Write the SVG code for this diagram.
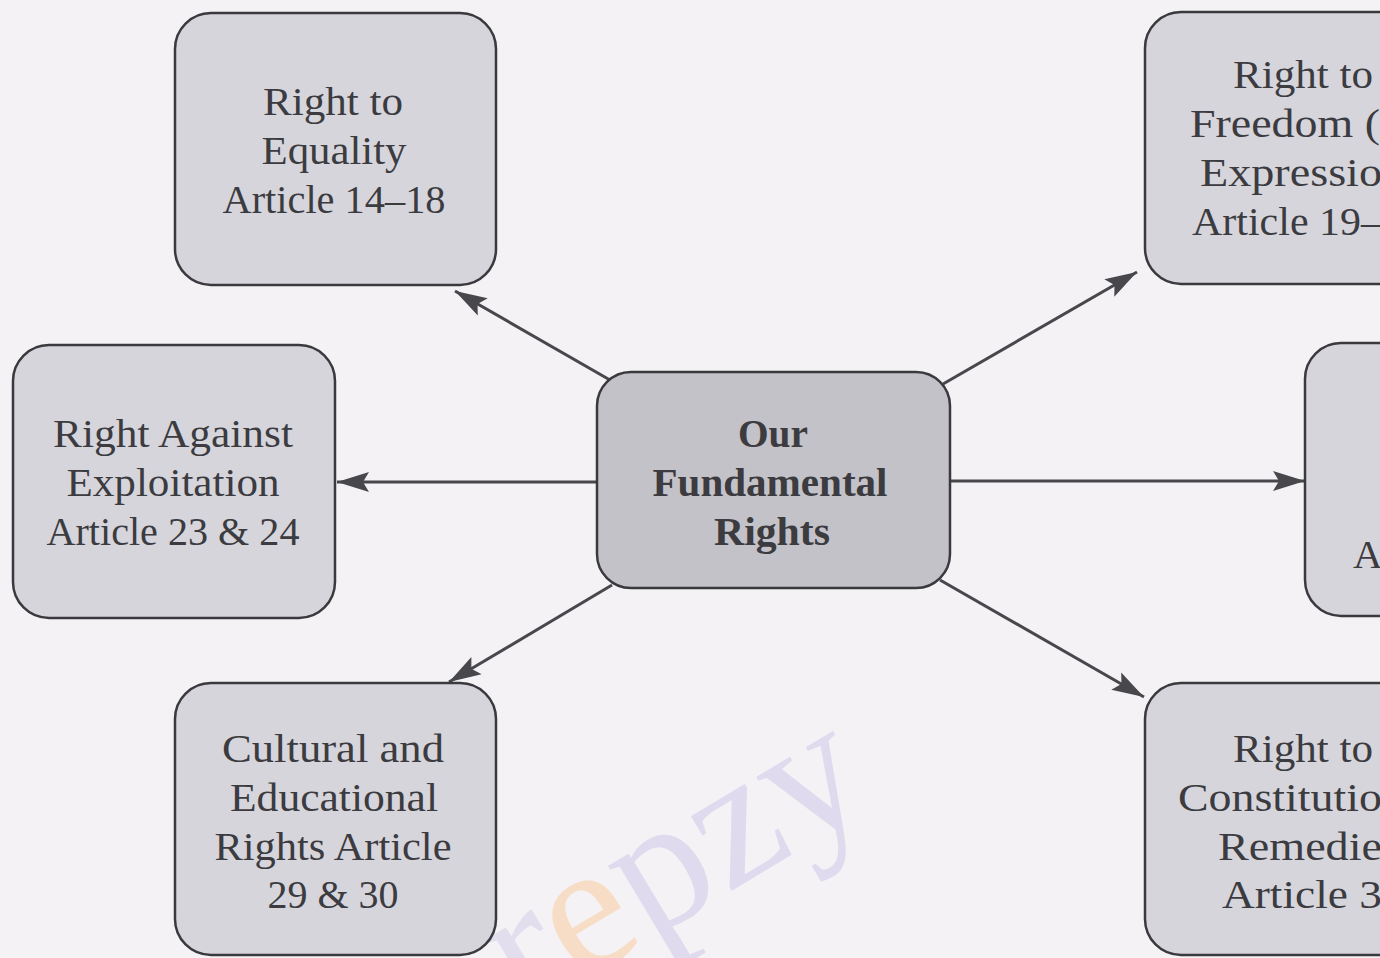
<svg xmlns="http://www.w3.org/2000/svg" width="1380" height="958" viewBox="0 0 1380 958">
<style>
.box{fill:#d6d5dc;stroke:#3a3a3e;stroke-width:2.5}
.center{fill:#c3c2c8;stroke:#3a3a3e;stroke-width:2.5}
.t{font-family:"Liberation Serif","DejaVu Serif",serif;font-size:41px;fill:#3b3b40;text-anchor:middle}
.ts{font-family:"Liberation Serif","DejaVu Serif",serif;font-size:41px;fill:#3b3b40;text-anchor:start}
.tb{font-family:"Liberation Serif","DejaVu Serif",serif;font-size:41px;font-weight:bold;fill:#3b3b40;text-anchor:middle}
.conn{stroke:#47474c;stroke-width:3;fill:none}
.wm{font-family:"Liberation Serif","DejaVu Serif",serif;font-size:185px}
</style>
<defs>
<marker id="ah" markerUnits="userSpaceOnUse" markerWidth="34" markerHeight="24" refX="32" refY="12" orient="auto">
<path d="M0,2 L32,12 L0,22 L6,12 Z" fill="#47474c"/>
</marker>
</defs>
<rect x="0" y="0" width="1380" height="958" fill="#f4f2f5"/>
<g id="watermark">
<text class="wm" x="0" y="0" transform="translate(525,1015) rotate(-31)"><tspan fill="#e3deee">r</tspan><tspan fill="#f7dcc6">e</tspan><tspan fill="#dfdaee">pzy</tspan></text>
</g>
<g id="connectors">
<line class="conn" x1="610" y1="380" x2="455" y2="291" marker-end="url(#ah)"/>
<line class="conn" x1="943" y1="384" x2="1137" y2="272" marker-end="url(#ah)"/>
<line class="conn" x1="598" y1="482" x2="337" y2="482" marker-end="url(#ah)"/>
<line class="conn" x1="950" y1="481" x2="1305" y2="481" marker-end="url(#ah)"/>
<line class="conn" x1="612" y1="585" x2="449" y2="682" marker-end="url(#ah)"/>
<line class="conn" x1="940" y1="580" x2="1144" y2="697" marker-end="url(#ah)"/>
</g>
<g id="node-equality">
<rect class="box" x="175" y="13" width="321" height="272" rx="36"/>
<text class="t" x="333" y="115" textLength="140" lengthAdjust="spacingAndGlyphs">Right to</text>
<text class="t" x="334" y="164" textLength="145" lengthAdjust="spacingAndGlyphs">Equality</text>
<text class="t" x="334" y="213" textLength="223" lengthAdjust="spacingAndGlyphs">Article 14–18</text>
</g>
<g id="node-exploitation">
<rect class="box" x="13" y="345" width="322" height="273" rx="36"/>
<text class="t" x="173" y="447" textLength="240" lengthAdjust="spacingAndGlyphs">Right Against</text>
<text class="t" x="173" y="496" textLength="213" lengthAdjust="spacingAndGlyphs">Exploitation</text>
<text class="t" x="173" y="545" textLength="253" lengthAdjust="spacingAndGlyphs">Article 23 &amp; 24</text>
</g>
<g id="node-cultural">
<rect class="box" x="175" y="683" width="321" height="272" rx="36"/>
<text class="t" x="333" y="762" textLength="222" lengthAdjust="spacingAndGlyphs">Cultural and</text>
<text class="t" x="334" y="811" textLength="208" lengthAdjust="spacingAndGlyphs">Educational</text>
<text class="t" x="333" y="860" textLength="237" lengthAdjust="spacingAndGlyphs">Rights Article</text>
<text class="t" x="333" y="908" textLength="131" lengthAdjust="spacingAndGlyphs">29 &amp; 30</text>
</g>
<g id="node-center">
<rect class="center" x="597" y="372" width="353" height="216" rx="34"/>
<text class="tb" x="773" y="447" textLength="70" lengthAdjust="spacingAndGlyphs">Our</text>
<text class="tb" x="770" y="496" textLength="235" lengthAdjust="spacingAndGlyphs">Fundamental</text>
<text class="tb" x="772" y="545" textLength="116" lengthAdjust="spacingAndGlyphs">Rights</text>
</g>
<g id="node-freedom">
<rect class="box" x="1145" y="12" width="280" height="272" rx="36"/>
<text class="ts" x="1233" y="88" textLength="140" lengthAdjust="spacingAndGlyphs">Right to</text>
<text class="ts" x="1190" y="137" textLength="190" lengthAdjust="spacingAndGlyphs">Freedom (</text>
<text class="ts" x="1200" y="186" textLength="182" lengthAdjust="spacingAndGlyphs">Expressio</text>
<text class="ts" x="1192" y="235" textLength="190" lengthAdjust="spacingAndGlyphs">Article 19–</text>
</g>
<g id="node-right-middle">
<rect class="box" x="1305" y="343" width="120" height="273" rx="36"/>
<text class="ts" x="1353" y="568">A</text>
</g>
<g id="node-remedies">
<rect class="box" x="1145" y="683" width="280" height="272" rx="36"/>
<text class="ts" x="1233" y="762" textLength="140" lengthAdjust="spacingAndGlyphs">Right to</text>
<text class="ts" x="1178" y="811" textLength="204" lengthAdjust="spacingAndGlyphs">Constitutio</text>
<text class="ts" x="1218" y="860" textLength="164" lengthAdjust="spacingAndGlyphs">Remedie</text>
<text class="ts" x="1222" y="908" textLength="160" lengthAdjust="spacingAndGlyphs">Article 3</text>
</g>
</svg>
